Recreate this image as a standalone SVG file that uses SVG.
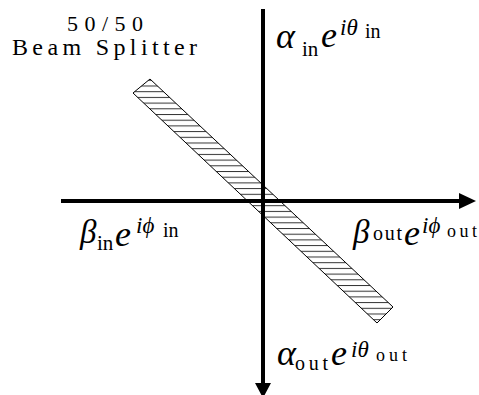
<svg xmlns="http://www.w3.org/2000/svg" width="479" height="395" viewBox="0 0 479 395">
<style>
.t{font-family:"Liberation Serif","Times New Roman",serif;fill:#000}
.it{font-style:italic}
.axis{stroke:#000;stroke-width:4;fill:none}
.bs{fill:url(#hatch);stroke:#000;stroke-width:1}
</style>
<defs>
<pattern id="hatch" patternUnits="userSpaceOnUse" width="10" height="5.7">
<rect width="10" height="5.7" fill="#fff"/>
<line x1="0" y1="0.5" x2="10" y2="0.5" stroke="#333" stroke-width="1"/>
</pattern>
</defs>
<rect width="479" height="395" fill="#fff"/>
<g id="title">
<text class="t" x="67" y="31" font-size="22" textLength="76" lengthAdjust="spacing">50/50</text>
<text class="t" x="12" y="55" font-size="24" textLength="185" lengthAdjust="spacing">Beam Splitter</text>
</g>
<g id="beam-splitter">
<polygon class="bs" points="133,93 150,79 393,307 377,323"/>
</g>
<g id="connectors">
<line class="axis" x1="61" y1="201" x2="460" y2="201"/>
<polygon points="459,193 476,201 459,209" fill="#000"/>
<line class="axis" x1="263" y1="9" x2="263" y2="385"/>
<polygon points="255,383 271,383 263,398" fill="#000"/>
</g>
<g id="alpha-in">
<text class="t it" x="276" y="48" font-size="36">α</text>
<text class="t" x="302" y="56" font-size="21">in</text>
<text class="t it" x="321" y="47" font-size="36">e</text>
<text class="t it" x="340" y="35" font-size="23">iθ</text>
<text class="t" x="365" y="38" font-size="20">in</text>
</g>
<g id="beta-in">
<text class="t it" x="80" y="243" font-size="33">β</text>
<text class="t" x="97" y="250" font-size="21">in</text>
<text class="t it" x="115" y="246" font-size="36">e</text>
<text class="t it" x="136" y="233" font-size="23">iϕ</text>
<text class="t" x="163" y="237" font-size="20">in</text>
</g>
<g id="beta-out">
<text class="t it" x="353" y="243" font-size="33">β</text>
<text class="t" x="373" y="240" font-size="20" textLength="29" lengthAdjust="spacing">out</text>
<text class="t it" x="404" y="245" font-size="36">e</text>
<text class="t it" x="422" y="233" font-size="23">iϕ</text>
<text class="t" x="447" y="237" font-size="18" textLength="30" lengthAdjust="spacing">out</text>
</g>
<g id="alpha-out">
<text class="t it" x="277" y="365" font-size="36">α</text>
<text class="t" x="295" y="370" font-size="20" textLength="33" lengthAdjust="spacing">out</text>
<text class="t it" x="331" y="365" font-size="36">e</text>
<text class="t it" x="351" y="357" font-size="23">iθ</text>
<text class="t" x="376" y="361" font-size="18" textLength="31" lengthAdjust="spacing">out</text>
</g>
</svg>
